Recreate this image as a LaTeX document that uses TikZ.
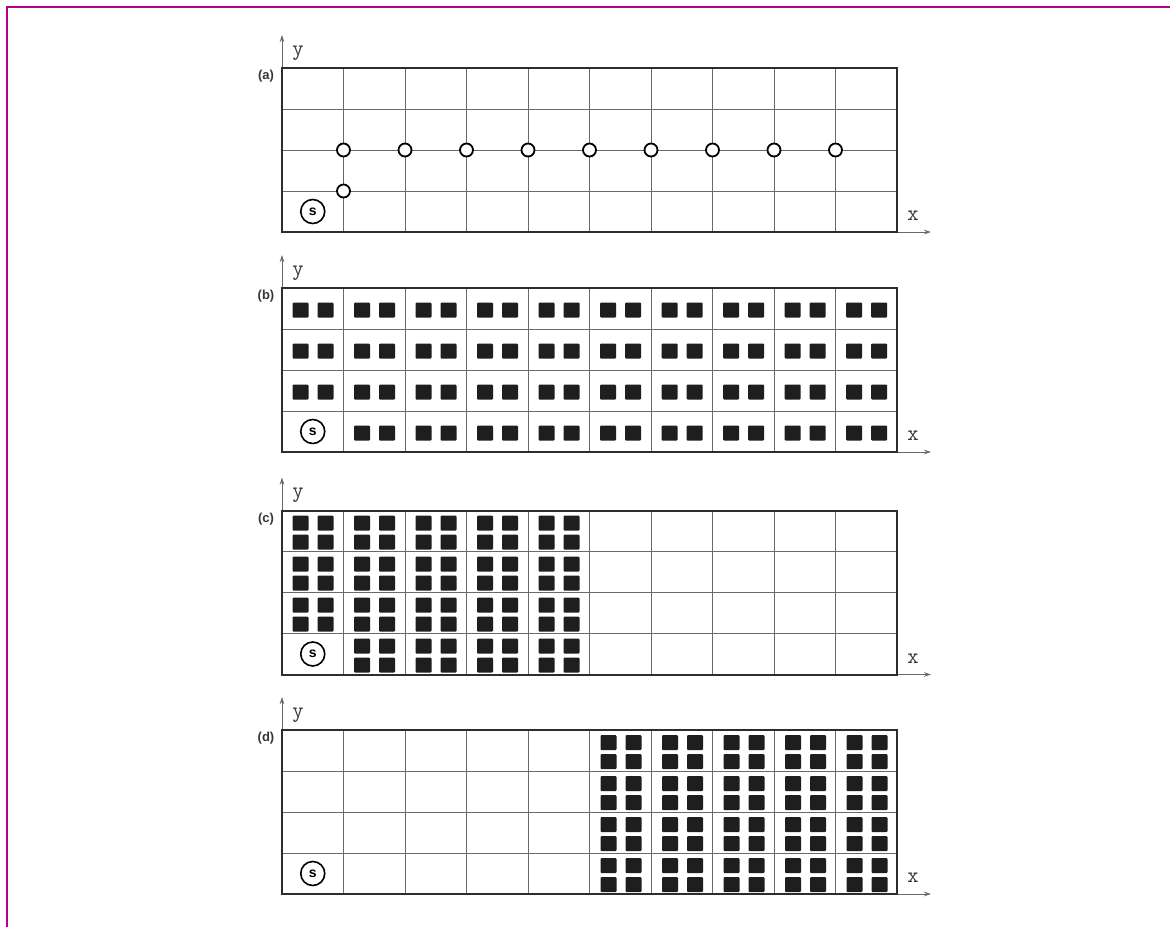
\documentclass[tikz,border=0pt]{standalone}
\usepackage{fontspec}
\newfontfamily\sansfont{Liberation Sans}
\usetikzlibrary{arrows.meta}
\definecolor{framecol}{RGB}{180,0,130}
\definecolor{gridcol}{RGB}{105,105,105}
\definecolor{boxcol}{RGB}{45,45,45}
\definecolor{blkcol}{RGB}{30,30,30}
\definecolor{labcol}{RGB}{55,55,55}
\newcommand\sqpair[2]{%
  \fill[blob] ({#1-20.5},{#2-7.5}) rectangle ++(16,15);
  \fill[blob] ({#1+4.5},{#2-7.5}) rectangle ++(16,15);}
\newcommand\sqquad[2]{%
  \sqpair{#1}{#2-9.5}\sqpair{#1}{#2+9.5}}
\begin{document}
\begin{tikzpicture}[x=1pt,y=-1pt,
  gridln/.style={draw=gridcol,line width=0.9pt},
  outer/.style={draw=boxcol,line width=2pt},
  axis/.style={draw=gridcol,line width=0.9pt,-{Stealth[length=7pt,width=4.5pt,fill=black]}},
  blob/.style={fill=blkcol,rounded corners=1pt},
  site/.style={circle,draw=black,fill=white,line width=1.8pt,minimum size=13pt,inner sep=0pt},
  src/.style={circle,draw=black,line width=1.6pt,minimum size=24pt,inner sep=0pt,font=\sansfont\bfseries\fontsize{14}{14}\selectfont},
  plabel/.style={text=labcol,font=\sansfont\bfseries\fontsize{13}{13}\selectfont},
  alabel/.style={text=labcol,font=\ttfamily\fontsize{22}{22}\selectfont}]
\useasboundingbox (0,0) rectangle (1170,927);
\fill[white] (0,0) rectangle (1170,927);
\draw[draw=framecol,line width=2pt] (7,927) -- (7,7) -- (1170,7);
\foreach \T/\l in {68/a,288/b,510.5/c,730/d}{
  \foreach \i in {1,...,9}
    \draw[gridln] ({282+61.5*\i},\T) -- ({282+61.5*\i},{\T+164});
  \foreach \j in {1,2,3}
    \draw[gridln] (282,{\T+41*\j}) -- (897,{\T+41*\j});
  \draw[axis] (282,{\T+164}) -- (282,{\T-33});
  \draw[axis] (282,{\T+164}) -- (931,{\T+164});
  \draw[outer] (282,\T) rectangle (897,{\T+164});
  \node[plabel] (lab\l) at (266,{\T+8.5}) {(\l)};
  \node[alabel] (ya\l) at (298,{\T-15}) {y};
  \node[alabel] (xa\l) at (913,{\T+148}) {x};
  \node[src] (S\l) at (312.75,{\T+143.5}) {s};
}
% panel (a): sites
\foreach \i in {1,...,9}
  \node[site] (c\i) at ({282+61.5*\i},150) {};
\node[site] (c0) at (343.5,191) {};
% panel (b): pairs
\foreach \i in {0,...,9}
  \foreach \j in {1,2,3}
    \sqpair{282+61.5*\i+31}{288+41*(3-\j)+22};
\foreach \i in {1,...,9}
  \sqpair{282+61.5*\i+31}{288+123+22};
% panel (c): quads, columns 0-4
\foreach \i in {0,...,4}
  \foreach \j in {1,2,3}
    \sqquad{282+61.5*\i+31}{510.5+41*(3-\j)+22};
\foreach \i in {1,...,4}
  \sqquad{282+61.5*\i+31}{510.5+123+22};
% panel (d): quads, columns 5-9
\foreach \i in {5,...,9}
  \foreach \j in {0,1,2,3}
    \sqquad{282+61.5*\i+31.5}{730+41*(3-\j)+22};
\end{tikzpicture}
\end{document}
